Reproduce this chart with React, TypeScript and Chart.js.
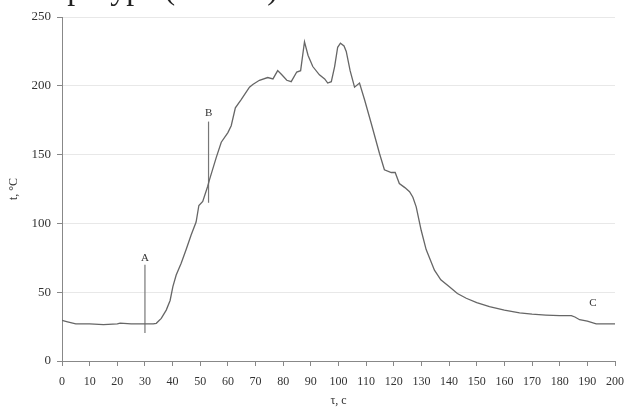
import React, { useEffect, useRef } from 'react';
import { Chart, registerables } from 'chart.js';

Chart.register(...registerables);

// time, s
const timeSec = [
  0, 2, 5, 10, 15, 20, 21, 25, 30, 33, 34.1, 35.9, 37.7, 39.1, 40.1, 41.3, 43.1, 44.9, 46.7, 48.5,
  49.5, 50.9, 52.7, 53.3, 55.8, 57.6, 60, 61.2, 62.7, 64.8, 67.8, 69, 71.4, 74.4, 76.3, 78, 79.5,
  81.3, 82.9, 84.9, 86.3, 87.7, 89, 90.7, 93.1, 95, 96.1, 97.4, 98.6, 99.7, 100.7, 102, 102.8,
  104.2, 105.8, 107.6, 109.4, 111.8, 114.8, 116.6, 119.1, 120.5, 122, 124, 125.7, 126.9, 128.1,
  129.9, 131.7, 134.7, 137, 140.1, 143, 146.2, 150, 154.6, 160, 165.5, 170, 175, 180, 184.2,
  185.5, 187.2, 190, 193.2, 200,
];

// temperature, °C
const tempC = [
  29.5, 28.5, 27, 27, 26.5, 27, 27.5, 27, 27, 27, 27.4, 31, 37, 44, 54, 62.5, 71, 81, 91.6, 101,
  113, 116, 127, 131.5, 148, 159, 166, 171, 184, 190, 199, 201, 204, 206, 205, 211, 208,
  204, 203, 210, 211, 232, 222, 214, 208, 205, 202, 203, 214, 228, 231, 229, 225,
  211, 199, 202, 190, 173, 151, 139, 137, 137, 129, 126, 123, 119, 112,
  95, 81, 66, 59, 54, 49, 45.6, 42.5, 39.5, 37, 35, 34, 33.4, 33, 33,
  32, 30, 29, 27, 27,
];

// vertical marker lines (A, B)
const markerX = [30, 53];
const markerLow = [20.3, 115];
const markerHigh = [70, 174];

// point labels
const labelText = ['A', 'B', 'C'];
const labelX = [30, 53, 192];
const labelY = [75, 180, 42];

const captionText = 'пературе (табл. 1)';

const annotPlugin = {
  id: 'annot',
  afterDatasetsDraw(chart: any) {
    const ctx = chart.ctx;
    const xs = chart.scales.x;
    const ys = chart.scales.y;
    ctx.save();
    ctx.fillStyle = '#333';
    ctx.font = '11px "Liberation Serif"';
    ctx.textAlign = 'center';
    ctx.textBaseline = 'middle';
    for (let i = 0; i < labelText.length; i++) {
      ctx.fillText(labelText[i], xs.getPixelForValue(labelX[i]), ys.getPixelForValue(labelY[i]));
    }
    ctx.fillStyle = '#222';
    ctx.font = '32px "Liberation Serif"';
    ctx.textAlign = 'left';
    ctx.textBaseline = 'alphabetic';
    ctx.fillText(captionText, 36, -1);
    ctx.restore();
  },
};

export default function App() {
  const ref = useRef<HTMLCanvasElement | null>(null);

  useEffect(() => {
    document.body.style.margin = '0';
    const canvas = ref.current;
    if (!canvas) return;
    const serif = '"Liberation Serif", "Times New Roman", serif';
    const datasets: any[] = [
      {
        data: timeSec.map((t, i) => ({ x: t, y: tempC[i] })),
        borderColor: '#666',
        borderWidth: 1.3,
        pointRadius: 0,
        tension: 0,
      },
    ];
    markerX.forEach((mx, i) => {
      datasets.push({
        data: [
          { x: mx, y: markerLow[i] },
          { x: mx, y: markerHigh[i] },
        ],
        borderColor: '#777',
        borderWidth: 1.2,
        pointRadius: 0,
      });
    });
    const chart = new Chart(canvas, {
      type: 'line',
      data: { datasets },
      plugins: [annotPlugin],
      options: {
        responsive: false,
        animation: false,
        layout: { padding: { top: 17, right: 13, left: 0, bottom: 0 } },
        plugins: { legend: { display: false }, tooltip: { enabled: false } },
        scales: {
          x: {
            type: 'linear',
            min: 0,
            max: 200,
            afterFit: (s: any) => {
              s.height = 48;
              s.paddingLeft = 0;
              s.paddingRight = 0;
            },
            ticks: {
              stepSize: 10,
              autoSkip: false,
              maxRotation: 0,
              font: { family: serif, size: 12 },
              color: '#333',
              padding: 9,
            },
            grid: {
              drawOnChartArea: false,
              drawTicks: true,
              tickLength: 5,
              tickColor: '#888',
            },
            border: { color: '#888', width: 1 },
            title: {
              display: true,
              text: 'τ, c',
              font: { family: serif, size: 12 },
              color: '#333',
              padding: { top: 0, bottom: 1 },
            },
          },
          y: {
            min: 0,
            max: 250,
            afterFit: (s: any) => {
              s.width = 62;
            },
            ticks: {
              stepSize: 50,
              font: { family: serif, size: 13 },
              color: '#333',
              padding: 6,
            },
            grid: {
              color: '#e8e8e8',
              tickColor: '#888',
              tickLength: 5,
              lineWidth: 1,
            },
            border: { color: '#888', width: 1 },
            title: {
              display: true,
              text: 't, °C',
              font: { family: serif, size: 12 },
              color: '#333',
              padding: { top: 7, bottom: 0 },
            },
          },
        },
      },
    });
    return () => chart.destroy();
  }, []);

  return (
    <div style={{ position: 'absolute', left: 0, top: 0, width: 628, height: 409 }}>
      <canvas ref={ref} width={628} height={409} style={{ width: 628, height: 409, display: 'block' }} />
    </div>
  );
}
